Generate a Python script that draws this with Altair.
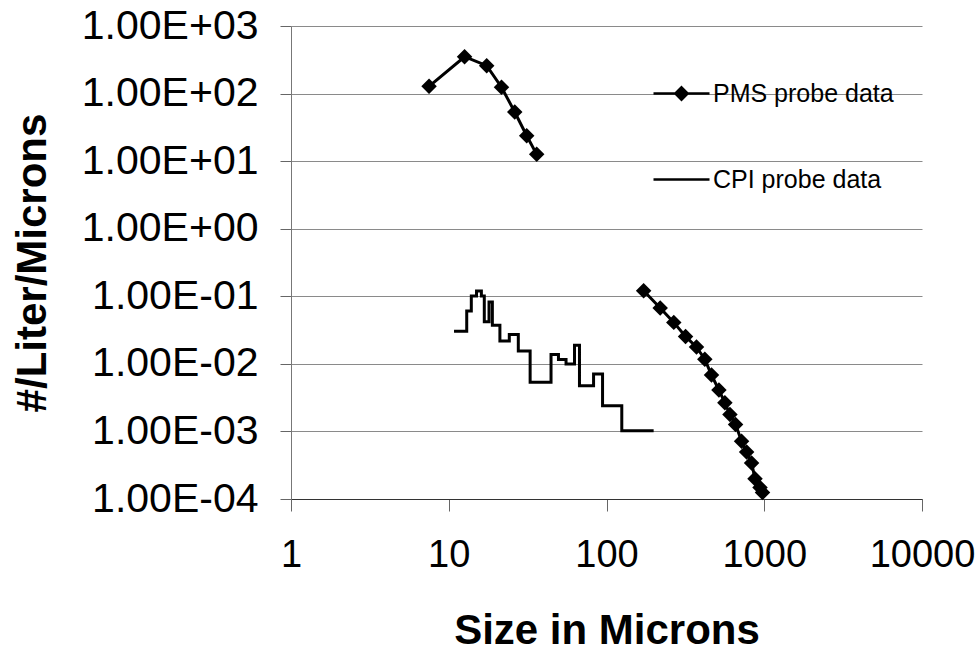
import altair as alt
import pandas as pd

# PMS probe data (two size ranges)
pms_small_x = [7.5, 12.6, 17.4, 21.6, 26.2, 31.2, 36.1]
pms_small_y = [128, 351, 259, 124, 53.4, 23.8, 12.6]
pms_large_x = [172, 219, 267, 317, 372, 420, 463, 516, 563, 606, 658, 718, 773, 831, 874, 940, 975]
pms_large_y = [0.121, 0.067, 0.0411, 0.0255, 0.0177, 0.0117, 0.00684, 0.00409, 0.00266,
               0.00178, 0.00127, 0.000715, 0.000498, 0.000341, 0.0002, 0.000148, 0.000125]

# CPI probe data (histogram bins: edges and values)
cpi_edges = [10.8, 13.0, 13.9, 15.0, 16.1, 16.8, 18.0, 18.9, 21.1, 24.2, 27.6, 32.8, 44.5,
             49.6, 55.4, 62.7, 67.4, 82.8, 94.4, 125, 199]
cpi_values = [0.0305, 0.0608, 0.101, 0.120, 0.101, 0.0419, 0.0826, 0.0374, 0.0217, 0.0272,
              0.0155, 0.00533, 0.0138, 0.0116, 0.00993, 0.0189, 0.00476, 0.00708, 0.00239, 0.00102]

series_names = ["PMS probe data", "CPI probe data"]
y_ticks = [1e-4, 1e-3, 1e-2, 1e-1, 1e0, 1e1, 1e2, 1e3]
x_ticks = [1, 10, 100, 1000, 10000]

pms = pd.DataFrame({
    "x": pms_small_x + pms_large_x,
    "y": pms_small_y + pms_large_y,
    "seg": ["a"] * len(pms_small_x) + ["b"] * len(pms_large_x),
    "series": [series_names[0]] * (len(pms_small_x) + len(pms_large_x)),
})
cpi = pd.DataFrame({
    "x": cpi_edges,
    "y": cpi_values + [cpi_values[-1]],
})

FONT = "Liberation Sans"

xscale = alt.Scale(type="log", domain=[1, 10000], nice=False)
yscale = alt.Scale(type="log", domain=[1e-4, 1e3], nice=False)

xenc = alt.X("x:Q", scale=xscale, axis=alt.Axis(
    values=x_ticks, format="d", title="Size in Microns", grid=False,
    labelFontSize=38, labelFont=FONT, labelColor="black", labelPadding=25,
    tickSize=12, tickColor="#666", domainColor="#333", labelFlush=False,
    titleFontSize=42, titleFont=FONT, titleFontWeight="bold", titleColor="black",
    titleY=144, titleBaseline="alphabetic"))
yenc = alt.Y("y:Q", scale=yscale, axis=alt.Axis(
    values=y_ticks, title="#/Liter/Microns", grid=True, gridColor="#8a8a8a", gridWidth=1,
    labelExpr="'1.00E' + (datum.value >= 1 ? '+' : '-') + '0' + abs(round(log(datum.value)/LN10))",
    labelFontSize=41, labelFont=FONT, labelColor="black", labelPadding=22,
    tickSize=11, tickColor="#666", domainColor="#777", labelFlush=False,
    titleFontSize=42, titleFont=FONT, titleFontWeight="bold", titleColor="black",
    titleX=-246, titleBaseline="alphabetic", titleAngle=-90))

cpi_line = alt.Chart(cpi).mark_line(interpolate="step-after", color="black", strokeWidth=3).encode(
    x=xenc, y=yenc)
pms_line = alt.Chart(pms).mark_line(color="black", strokeWidth=3).encode(
    x="x:Q", y="y:Q", detail="seg:N")
pms_pts = alt.Chart(pms).mark_point(shape="diamond", filled=True, color="black", size=240, opacity=1).encode(
    x="x:Q", y="y:Q")

legend_shapes = [
    "M-1,0H1M0,-0.22L0.22,0L0,0.22L-0.22,0Z",
    "M-1,0H1",
]
legend_layer = alt.Chart(pms).mark_point(
    opacity=0, filled=True, fill="black", stroke="black").encode(
    x="x:Q", y="y:Q",
    shape=alt.Shape("series:N", scale=alt.Scale(domain=series_names, range=legend_shapes),
                    legend=alt.Legend(
                        title=None, orient="none", legendX=361, legendY=38,
                        symbolSize=3136, symbolStrokeWidth=2.5, symbolOpacity=1,
                        labelFontSize=25, labelFont=FONT, labelColor="black", labelLimit=0,
                        labelOffset=2, rowPadding=43, padding=0)))

chart = alt.layer(cpi_line, pms_line, pms_pts, legend_layer).properties(
    width=631, height=473,
    autosize=alt.AutoSizeParams(type="none"),
    padding={"left": 291, "top": 26, "right": 58, "bottom": 154},
    background="white",
).configure_view(strokeWidth=0)

chart.save("out.html", embed_options={"renderer": "svg", "actions": False})
